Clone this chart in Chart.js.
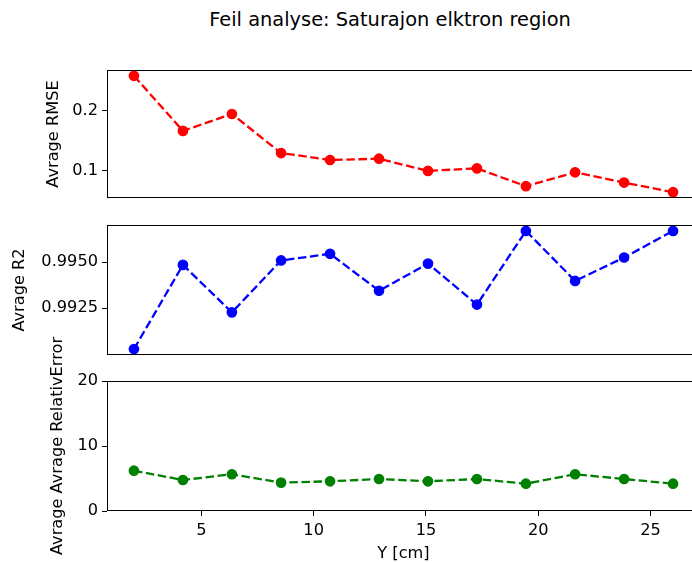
<!DOCTYPE html>
<html>
<head>
<meta charset="utf-8">
<script src="https://cdn.jsdelivr.net/npm/chart.js@4.4.0/dist/chart.umd.min.js"></script>
<style>
  body { margin: 0; background: #fff; }
  #wrap { position: relative; width: 692px; height: 563px; overflow: hidden; background: #fff; }
  #wrap canvas { position: absolute; left: 0; }
  #suptitle {
    position: absolute; left: 0; top: 10px; width: 780px; line-height: 20px;
    text-align: center; font-family: 'DejaVu Sans'; font-size: 19.4px; color: #000;
  }
</style>
</head>
<body>
<div id="wrap">
  <div id="suptitle">Feil analyse: Saturajon elktron region</div>
  <canvas id="rmse" width="780" height="230" style="top:0"></canvas>
  <canvas id="r2" width="780" height="170" style="top:210px"></canvas>
  <canvas id="relerr" width="780" height="273" style="top:290px"></canvas>
</div>
<script>
// Data
const Y_CM = [2.0, 4.18, 6.36, 8.55, 10.73, 12.91, 15.09, 17.27, 19.45, 21.64, 23.82, 26.0];
const RMSE = [0.258, 0.1665, 0.1946, 0.1297, 0.1182, 0.1203, 0.1000, 0.1043, 0.0746, 0.0977, 0.0807, 0.0647];
const R2 = [0.99029, 0.99485, 0.99228, 0.99509, 0.99545, 0.99345, 0.99492, 0.99270, 0.99669, 0.99398, 0.99525, 0.99669];
const REL_ERR = [6.2, 4.77, 5.65, 4.37, 4.57, 4.92, 4.57, 4.92, 4.2, 5.65, 4.92, 4.2];

const X_TICKS = [5, 10, 15, 20, 25];
const RMSE_TICKS = [0.1, 0.2];
const R2_TICKS = [0.9925, 0.995];
const REL_TICKS = [0, 10, 20];

const FONT = 'DejaVu Sans';
const FONT_SIZE = 16.2;
const HALF_LINE = FONT_SIZE * 1.2 / 2;
const X_MIN = 0.8;
const X_MAX = 27.2;
// the figure is cropped on the right, so the plot box runs past the page edge
const PAD_R = 80;

// matplotlib style 5% margin
function padRange(values) {
    const lo = Math.min(...values);
    const hi = Math.max(...values);
    const m = (hi - lo) * 0.05;
    return [lo - m, hi + m];
}

// draws the axes box like the matplotlib spines
const frame = {
    id: 'frame',
    afterDatasetsDraw(chart) {
        const { ctx, chartArea: a } = chart;
        ctx.save();
        ctx.strokeStyle = '#000';
        ctx.lineWidth = 1;
        ctx.strokeRect(Math.round(a.left) + 0.5, Math.round(a.top) + 0.5,
            Math.round(a.right - a.left), Math.round(a.bottom - a.top) - 1);
        ctx.restore();
    }
};

function makeChart(canvas, values, color, yTicks, yRange, yLabel, labelX, decimals, extra) {
    const CONTEXT = document.getElementById(canvas).getContext('2d');
    const showX = !!extra.showX;
    const options = {
        responsive: false,
        animation: false,
        layout: { padding: extra.padding },
        plugins: {
            legend: { display: false },
            tooltip: { enabled: false },
            title: { display: false }
        },
        scales: {
            x: {
                type: 'linear',
                min: X_MIN,
                max: X_MAX,
                display: showX,
                afterBuildTicks: (scale) => { scale.ticks = X_TICKS.map(v => ({ value: v })); },
                afterFit: (scale) => { scale.height = showX ? 52 : 0; },
                border: { display: false },
                grid: { drawOnChartArea: false, drawTicks: true, tickLength: 5, color: '#000' },
                ticks: {
                    color: '#000',
                    padding: 5.5,
                    maxRotation: 0,
                    font: { family: FONT, size: FONT_SIZE },
                    callback: (v) => String(v)
                },
                title: {
                    display: showX,
                    text: 'Y [cm]',
                    color: '#000',
                    font: { family: FONT, size: FONT_SIZE },
                    padding: { top: 0, bottom: 9 - HALF_LINE }
                }
            },
            y: {
                min: yRange[0],
                max: yRange[1],
                afterBuildTicks: (scale) => { scale.ticks = yTicks.map(v => ({ value: v })); },
                afterFit: (scale) => { scale.width = 107; },
                border: { display: false },
                grid: { drawOnChartArea: false, drawTicks: true, tickLength: 5, color: '#000' },
                ticks: {
                    color: '#000',
                    padding: 4,
                    font: { family: FONT, size: FONT_SIZE },
                    callback: (v) => Number(v).toFixed(decimals)
                },
                title: {
                    display: true,
                    text: yLabel,
                    color: '#000',
                    font: { family: FONT, size: FONT_SIZE },
                    // offset from the left edge to the label centre
                    padding: { top: labelX - HALF_LINE, bottom: 0 }
                }
            }
        }
    };
    return new Chart(CONTEXT, {
        type: 'line',
        data: {
            datasets: [{
                data: Y_CM.map((x, i) => ({ x: x, y: values[i] })),
                borderColor: color,
                backgroundColor: color,
                borderWidth: 2.3,
                borderDash: [8.5, 3.6],
                pointRadius: 4.7,
                pointBorderWidth: 1.3,
                pointBackgroundColor: color,
                pointBorderColor: color,
                tension: 0,
                clip: false
            }]
        },
        options: options,
        plugins: [frame]
    });
}

makeChart('rmse', RMSE, '#ff0000', RMSE_TICKS, padRange(RMSE), 'Avrage RMSE', 53.5, 1, {
    padding: { top: 70, bottom: 32, left: 0, right: PAD_R }
});
makeChart('r2', R2, '#0000ff', R2_TICKS, padRange(R2), 'Avrage R2', 20, 4, {
    padding: { top: 15, bottom: 25, left: 0, right: PAD_R }
});
makeChart('relerr', REL_ERR, '#008000', REL_TICKS, [0, 20], 'Avrage Avrage RelativError', 57.5, 0, {
    showX: true,
    padding: { top: 91, bottom: 0, left: 0, right: PAD_R }
});
</script>
</body>
</html>
